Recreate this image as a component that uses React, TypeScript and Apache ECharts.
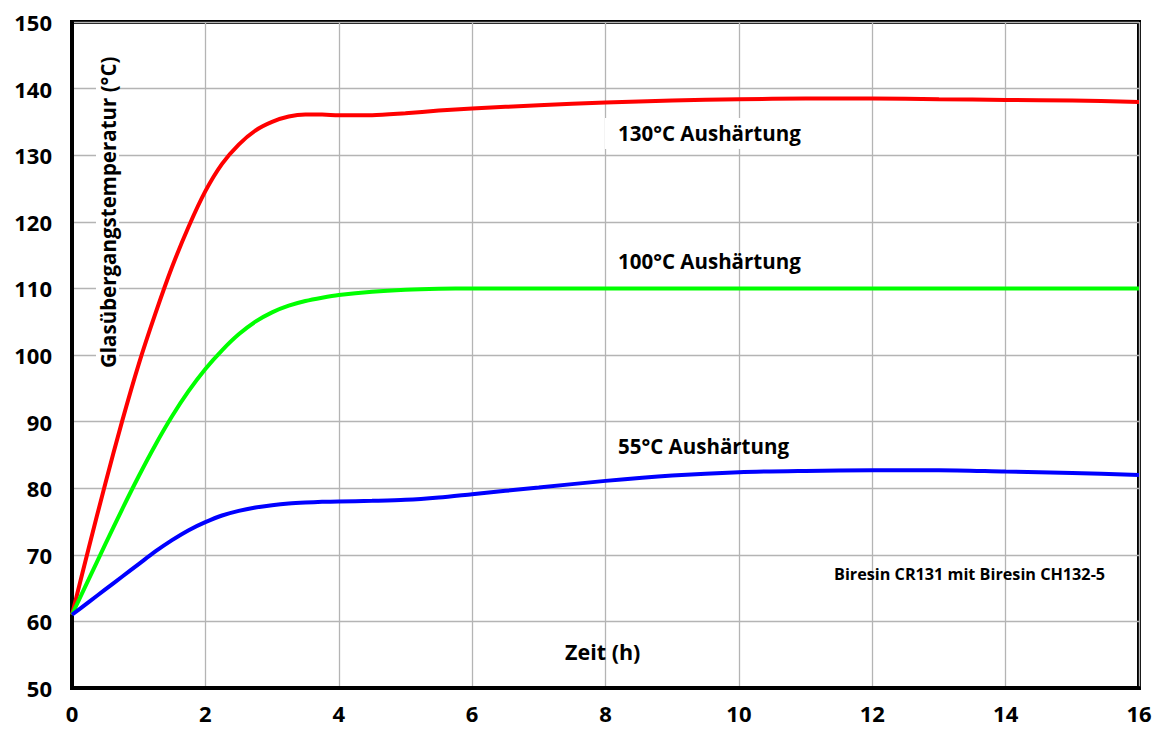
import React, { useEffect, useRef } from "react";
import * as echarts from "echarts";

const xs = [0, 0.25, 0.5, 0.75, 1, 1.25, 1.5, 1.75, 2, 2.25, 2.5, 2.75, 3, 3.25, 3.5, 3.75, 4, 4.5, 5, 5.5, 6, 7, 8, 9, 10, 11, 12, 13, 14, 15, 16];
const red = [61, 71.0, 80.7, 90.0, 98.6, 106.2, 113.2, 119.3, 124.6, 128.7, 131.6, 133.7, 135.0, 135.8, 136.1, 136.1, 136.0, 136.0, 136.3, 136.7, 137.0, 137.5, 137.9, 138.2, 138.4, 138.5, 138.5, 138.4, 138.3, 138.2, 138];
const green = [61, 66.3, 71.6, 76.8, 81.8, 86.5, 90.8, 94.6, 97.9, 100.7, 103.1, 105.0, 106.4, 107.4, 108.1, 108.6, 109.0, 109.5, 109.8, 109.95, 110, 110, 110, 110, 110, 110, 110, 110, 110, 110, 110];
const blue = [61, 62.9, 64.8, 66.7, 68.6, 70.5, 72.2, 73.7, 74.9, 75.9, 76.6, 77.1, 77.45, 77.7, 77.85, 77.95, 78.0, 78.1, 78.25, 78.6, 79.1, 80.1, 81.1, 81.9, 82.4, 82.6, 82.7, 82.7, 82.5, 82.3, 82];
const seriesNames = ["130°C Aushärtung", "100°C Aushärtung", "55°C Aushärtung"];
const yTitle = "Glasübergangstemperatur (°C)";
const xTitle = "Zeit (h)";
const note = "Biresin CR131 mit Biresin CH132-5";

const FONT = "Open Sans";

export default function App() {
  const ref = useRef<HTMLDivElement>(null);
  useEffect(() => {
    const chart = echarts.init(ref.current!, null, { renderer: "svg" });
    const mk = (arr: number[]) => xs.map((x, i) => [x, arr[i]]);
    const lineSeries = (name: string, data: number[], color: string) => ({
      name,
      type: "line",
      data: mk(data),
      smooth: 0.3,
      showSymbol: false,
      lineStyle: { color, width: 4 },
      z: 3,
    });
    const textStyle = (size: number) => ({
      fontFamily: FONT,
      fontWeight: "bold",
      fontSize: size,
      fill: "#000",
    });
    chart.setOption({
      animation: false,
      backgroundColor: "#fff",
      grid: {
        left: 72,
        top: 22,
        right: 20,
        bottom: 43,
        show: true,
        borderColor: "#000",
        borderWidth: 4,
      },
      xAxis: {
        type: "value",
        min: 0,
        max: 16,
        interval: 2,
        axisLine: { show: true, lineStyle: { color: "#000", width: 4 } },
        axisTick: { show: false },
        splitLine: { show: true, lineStyle: { color: "#b4b4b4", width: 1.3 } },
        axisLabel: {
          color: "#000",
          fontFamily: FONT,
          fontWeight: "bold",
          fontSize: 22,
          margin: 14,
        },
      },
      yAxis: {
        type: "value",
        min: 50,
        max: 150,
        interval: 10,
        axisLine: { show: true, lineStyle: { color: "#000", width: 4 } },
        axisTick: { show: false },
        splitLine: { show: true, lineStyle: { color: "#b4b4b4", width: 1.3 } },
        axisLabel: {
          color: "#000",
          fontFamily: FONT,
          fontWeight: "bold",
          fontSize: 22,
          margin: 20,
        },
      },
      series: [
        lineSeries(seriesNames[0], red, "#ff0000"),
        lineSeries(seriesNames[1], green, "#00ff00"),
        lineSeries(seriesNames[2], blue, "#0000ff"),
      ],
      graphic: [
        {
          type: "text",
          x: 605,
          y: 118,
          z: 2,
          style: { ...textStyle(20.5), text: seriesNames[0], backgroundColor: "#fff", padding: [4, 14, 6, 13] },
        },
        {
          type: "text",
          x: 618,
          y: 250,
          z: 2,
          style: { ...textStyle(20.5), text: seriesNames[1] },
        },
        {
          type: "text",
          x: 618,
          y: 435,
          z: 2,
          style: { ...textStyle(20.5), text: seriesNames[2] },
        },
        {
          type: "text",
          x: 834,
          y: 566,
          z: 2,
          style: { ...textStyle(16.2), text: note },
        },
        {
          type: "text",
          x: 565,
          y: 640,
          z: 2,
          style: { ...textStyle(21.5), text: xTitle },
        },
        {
          type: "text",
          x: 96,
          y: 372,
          rotation: Math.PI / 2,
          z: 2,
          style: { ...textStyle(20.5), text: yTitle, backgroundColor: "#fff", padding: [1, 4, 1, 4] },
        },
      ],
    });
    return () => chart.dispose();
  }, []);
  return (
    <div
      ref={ref}
      style={{ position: "fixed", left: 0, top: 0, width: 1159, height: 731 }}
    />
  );
}
